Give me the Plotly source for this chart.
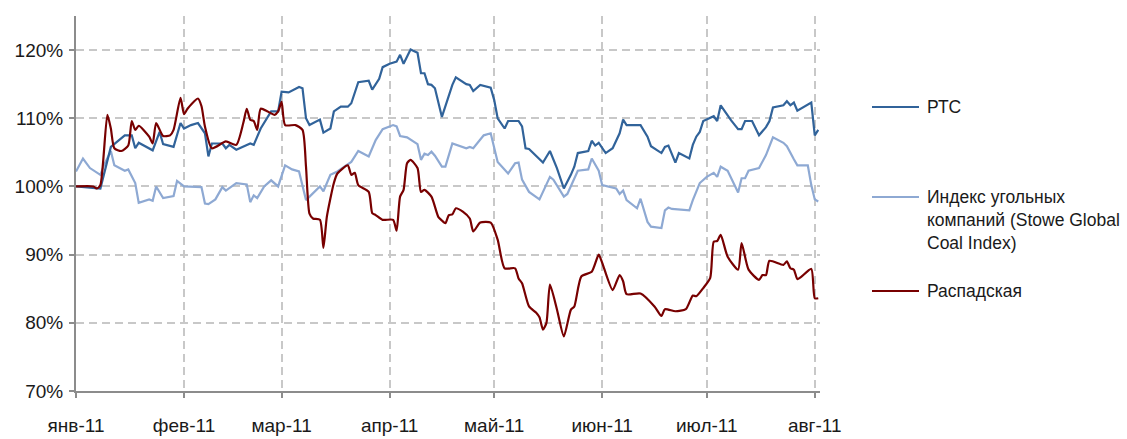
import plotly.graph_objects as go

# ---- data ----
month_ticks = ["2011-01-01", "2011-02-01", "2011-03-01", "2011-04-01",
               "2011-05-01", "2011-06-01", "2011-07-01", "2011-08-01"]
month_labels = ["янв-11", "фев-11", "мар-11", "апр-11", "май-11", "июн-11", "июл-11", "авг-11"]
y_ticks = [70, 80, 90, 100, 110, 120]
y_labels = ["70%", "80%", "90%", "100%", "110%", "120%"]

rts_dates = ["01-01", "01-08", "01-11", "01-15", "01-17", "01-18", "01-19", "01-23", "01-25", "01-26",
             "01-29", "01-31", "02-01", "02-03", "02-05", "02-07", "02-08", "02-09", "02-12", "02-13",
             "02-14", "02-16", "02-20", "02-21", "02-23", "02-26", "02-28", "03-01", "03-03", "03-06",
             "03-07", "03-08", "03-09", "03-12", "03-13", "03-15", "03-16", "03-18", "03-20", "03-21",
             "03-23", "03-26", "03-27", "03-29", "03-30", "04-01", "04-03", "04-04", "04-05", "04-07",
             "04-09", "04-10", "04-11", "04-12", "04-13", "04-14", "04-16", "04-19", "04-20", "04-23",
             "04-24", "04-25", "04-27", "04-30", "05-01", "05-02", "05-04", "05-05", "05-08", "05-09",
             "05-10", "05-11", "05-15", "05-17", "05-19", "05-21", "05-23", "05-24", "05-25", "05-28",
             "05-29", "05-30", "05-31", "06-02", "06-04", "06-06", "06-07", "06-08", "06-12", "06-14",
             "06-15", "06-18", "06-19", "06-20", "06-22", "06-23", "06-26", "06-27", "06-28", "06-29",
             "06-30", "07-03", "07-04", "07-05", "07-08", "07-10", "07-11", "07-12", "07-14", "07-16",
             "07-18", "07-19", "07-20", "07-23", "07-24", "07-25", "07-26", "07-27", "07-31", "08-01",
             "08-02"]
rts_values = [100.0, 99.7, 105.8, 107.5, 107.5, 105.6, 106.4, 105.3, 108.0, 106.2,
              105.8, 109.3, 108.5, 109.0, 109.3, 107.8, 104.4, 106.3, 106.3, 105.6,
              106.1, 105.4, 106.3, 106.1, 108.5, 111.0, 111.0, 113.9, 113.8, 114.6,
              114.4, 110.0, 109.0, 109.8, 107.9, 108.5, 111.0, 111.7, 111.7, 112.2,
              115.3, 115.5, 114.2, 115.8, 117.5, 118.0, 118.3, 119.3, 118.0, 120.1,
              119.6, 116.6, 116.6, 115.0, 114.9, 114.4, 110.2, 114.9, 116.0, 115.0,
              114.9, 114.0, 114.9, 114.5, 112.7, 110.0, 108.5, 109.6, 109.6, 108.8,
              105.6, 105.5, 103.5, 105.2, 102.7, 99.7, 101.7, 102.9, 104.9, 105.2,
              106.7, 106.0, 106.4, 104.9, 105.6, 107.8, 109.8, 109.0, 109.0, 107.3,
              105.9, 104.9, 105.8, 106.0, 103.5, 104.9, 104.1, 106.1, 107.3, 108.0,
              109.6, 110.3, 109.6, 111.9, 109.7, 108.4, 108.4, 109.6, 109.6, 107.5,
              108.7, 109.6, 111.6, 111.9, 112.5, 111.9, 112.3, 111.1, 112.3, 107.5,
              108.3]

coal_dates = ["01-01", "01-03", "01-05", "01-08", "01-09", "01-11", "01-12", "01-15", "01-16", "01-18",
              "01-19", "01-22", "01-23", "01-24", "01-26", "01-29", "01-30", "02-01", "02-06", "02-07",
              "02-08", "02-10", "02-12", "02-13", "02-16", "02-19", "02-20", "02-21", "02-22", "02-24",
              "02-26", "02-28", "03-02", "03-04", "03-06", "03-08", "03-12", "03-13", "03-15", "03-17",
              "03-21", "03-23", "03-26", "03-28", "03-30", "04-02", "04-03", "04-04", "04-06", "04-09",
              "04-10", "04-11", "04-12", "04-13", "04-14", "04-16", "04-17", "04-19", "04-23", "04-24",
              "04-25", "04-28", "04-30", "05-01", "05-02", "05-05", "05-07", "05-08", "05-09", "05-11",
              "05-14", "05-17", "05-18", "05-21", "05-22", "05-25", "05-28", "05-29", "05-31", "06-01",
              "06-05", "06-06", "06-07", "06-08", "06-11", "06-12", "06-14", "06-15", "06-18", "06-19",
              "06-20", "06-21", "06-26", "06-27", "06-29", "07-01", "07-03", "07-04", "07-05", "07-07",
              "07-10", "07-11", "07-12", "07-13", "07-16", "07-18", "07-20", "07-23", "07-24", "07-26",
              "07-27", "07-30", "07-31", "08-01", "08-02"]
coal_values = [102.2, 104.1, 102.7, 101.7, 103.1, 105.2, 103.1, 102.3, 102.5, 100.5,
               97.6, 98.1, 97.9, 100.0, 98.3, 98.6, 100.8, 100.0, 99.9, 97.5,
               97.4, 98.1, 99.9, 99.4, 100.5, 100.3, 97.7, 98.7, 98.3, 100.0,
               100.9, 100.0, 103.1, 102.5, 102.2, 98.0, 100.0, 99.3, 101.7, 102.2,
               103.6, 105.2, 104.4, 106.8, 108.4, 109.0, 108.8, 107.4, 107.2, 106.2,
               103.9, 104.8, 104.6, 105.1, 104.5, 102.9, 102.9, 106.3, 105.6, 105.8,
               105.6, 107.5, 107.8, 105.6, 103.6, 101.9, 103.4, 103.5, 101.0, 99.2,
               98.1, 101.4, 101.0, 98.5, 98.9, 102.3, 102.5, 104.1, 102.3, 100.2,
               99.7, 98.9, 99.4, 98.0, 96.8, 98.2, 94.8, 94.1, 93.9, 96.5,
               96.9, 96.7, 96.5, 98.0, 100.5, 101.4, 102.0, 101.4, 102.9, 102.3,
               99.1, 101.2, 101.2, 102.3, 102.7, 104.6, 107.2, 106.4, 105.9, 104.0,
               103.1, 103.1, 100.2, 98.1, 97.8]

rasp_dates = ["01-01", "01-06", "01-07", "01-08", "01-10", "01-11", "01-12", "01-14", "01-16", "01-17",
              "01-18", "01-19", "01-22", "01-23", "01-24", "01-26", "01-28", "01-29", "01-31", "02-01",
              "02-02", "02-05", "02-06", "02-07", "02-09", "02-13", "02-16", "02-18", "02-19", "02-20",
              "02-21", "02-22", "02-23", "02-25", "02-27", "02-28", "03-01", "03-02", "03-05", "03-07",
              "03-08", "03-09", "03-10", "03-12", "03-13", "03-14", "03-16", "03-17", "03-20", "03-21",
              "03-22", "03-23", "03-26", "03-27", "03-28", "03-30", "04-02", "04-03", "04-04", "04-05",
              "04-06", "04-07", "04-09", "04-10", "04-11", "04-13", "04-15", "04-16", "04-17", "04-18",
              "04-19", "04-20", "04-22", "04-24", "04-25", "04-27", "04-30", "05-02", "05-04", "05-07",
              "05-08", "05-09", "05-11", "05-13", "05-14", "05-15", "05-16", "05-17", "05-19", "05-21",
              "05-23", "05-24", "05-26", "05-29", "05-31", "06-01", "06-04", "06-06", "06-07", "06-08",
              "06-12", "06-16", "06-18", "06-19", "06-22", "06-25", "06-27", "06-28", "06-30", "07-02",
              "07-03", "07-04", "07-05", "07-07", "07-10", "07-11", "07-13", "07-16", "07-17", "07-18",
              "07-19", "07-23", "07-24", "07-25", "07-26", "07-27", "07-28", "07-31", "08-01", "08-02"]
rasp_values = [100.0, 100.0, 99.7, 100.2, 110.5, 108.5, 105.6, 105.2, 106.0, 109.6,
               108.3, 108.9, 107.3, 106.3, 109.3, 107.4, 107.5, 108.3, 113.0, 110.6,
               111.4, 112.9, 111.8, 108.8, 105.6, 106.6, 106.1, 109.3, 111.4, 109.8,
               109.6, 108.3, 111.4, 111.0, 110.5, 111.0, 112.4, 109.0, 109.0, 108.3,
               102.9, 96.0, 95.3, 95.1, 91.0, 95.6, 100.5, 101.9, 103.1, 101.7,
               102.0, 100.2, 99.2, 96.1, 95.8, 95.1, 95.1, 93.5, 98.5, 99.5,
               103.4, 103.9, 102.7, 99.2, 99.5, 98.5, 95.5, 95.0, 94.6, 95.8,
               95.9, 96.8, 96.3, 95.3, 93.4, 94.7, 94.7, 92.2, 88.0, 88.0,
               86.5, 85.8, 82.4, 81.5, 80.8, 79.0, 80.0, 85.6, 82.0, 78.0,
               81.9, 82.4, 86.8, 87.5, 90.0, 88.8, 84.8, 87.0, 86.1, 84.2,
               84.3, 82.4, 81.0, 82.0, 81.7, 82.0, 84.0, 83.9, 85.1, 86.6,
               91.9, 92.0, 92.9, 89.7, 87.8, 91.7, 87.8, 86.3, 87.0, 87.0,
               89.1, 88.5, 89.0, 88.0, 87.8, 86.4, 86.7, 87.9, 83.6, 83.6]

series_names = ["РТС", "Индекс угольных<br>компаний (Stowe Global<br>Coal Index)", "Распадская"]
series_colors = ["#31639A", "#8EA9D3", "#780000"]

FONT = "Liberation Sans Narrow, Arial Narrow, Liberation Sans, Arial, sans-serif"


def full(dates):
    return ["2011-" + d for d in dates]


fig = go.Figure()
fig.add_trace(go.Scatter(x=full(coal_dates), y=coal_values, mode="lines",
                         line=dict(color=series_colors[1], width=2.2), name=series_names[1]))
fig.add_trace(go.Scatter(x=full(rts_dates), y=rts_values, mode="lines",
                         line=dict(color=series_colors[0], width=2.2), name=series_names[0]))
fig.add_trace(go.Scatter(x=full(rasp_dates), y=rasp_values, mode="lines",
                         line=dict(color=series_colors[2], width=2.2, shape="spline", smoothing=0.6),
                         name=series_names[2]))

# legend drawn manually (positions in paper px)
W, H = 1127, 439
ml, mr, mt, mb = 76, 307, 16, 48
pw, ph = W - ml - mr, H - mt - mb


def px2paper(x, y):
    return (x - ml) / pw, (H - mb - y) / ph


legend_rows = [(107, 0), (197, 1), (291, 2)]
for ypix, idx in legend_rows:
    x0, yy = px2paper(872, ypix)
    x1, _ = px2paper(919, ypix)
    fig.add_shape(type="line", xref="paper", yref="paper", x0=x0, x1=x1, y0=yy, y1=yy,
                  line=dict(color=series_colors[idx], width=2))
    tx, ty = px2paper(925, ypix)
    fig.add_annotation(xref="paper", yref="paper", x=tx, y=ty, text=series_names[idx],
                       showarrow=False, xanchor="left", yanchor="middle" if idx != 1 else "top",
                       yshift=0 if idx != 1 else 12, align="left",
                       font=dict(family=FONT, size=17.5, color="#1a1a1a"))

fig.update_layout(
    width=W, height=H, autosize=False,
    margin=dict(l=ml, r=mr, t=mt, b=mb, autoexpand=False),
    plot_bgcolor="white", paper_bgcolor="white",
    showlegend=False,
    font=dict(family=FONT, size=19, color="#1a1a1a"),
)
fig.update_xaxes(
    type="date", range=["2011-01-01", "2011-08-02 12:00"],
    tickvals=month_ticks, ticktext=month_labels,
    showgrid=True, gridcolor="#C8C8C8", gridwidth=2, griddash="8px,5px",
    showline=True, linecolor="#8C8C8C", linewidth=2,
    ticks="outside", ticklen=5, tickwidth=1.5, tickcolor="#8C8C8C",
    ticklabelstandoff=11, zeroline=False, automargin=False,
)
fig.update_yaxes(
    range=[70, 125], tickvals=y_ticks, ticktext=y_labels,
    showgrid=True, gridcolor="#C8C8C8", gridwidth=2, griddash="8px,5px",
    showline=True, linecolor="#8C8C8C", linewidth=2,
    ticks="outside", ticklen=5, tickwidth=1.5, tickcolor="#8C8C8C",
    ticklabelstandoff=2, zeroline=False, automargin=False,
)

fig.write_html("out.html",
               config={"displayModeBar": False, "responsive": False},
               post_script="document.body.style.margin='0';document.body.style.overflow='hidden';")
